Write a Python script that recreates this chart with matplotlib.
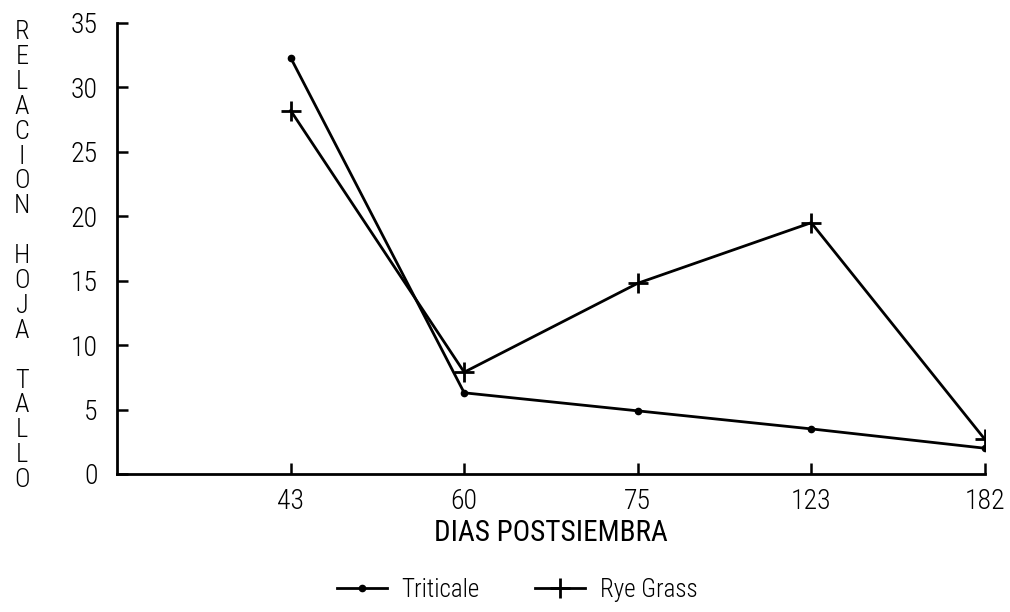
import matplotlib.pyplot as plt
from matplotlib import font_manager

dias = ["43", "60", "75", "123", "182"]
triticale = [32.3, 6.3, 4.9, 3.5, 2.0]
rye_grass = [28.2, 7.9, 14.8, 19.5, 2.7]
ylabel_txt = "RELACION HOJA TALLO"

names = {f.name for f in font_manager.fontManager.ttflist}
fam = "DejaVu Sans"
for cand in ["Liberation Sans Narrow", "Roboto Condensed", "DejaVu Sans Condensed"]:
    if cand in names:
        fam = cand
        break
plt.rcParams['font.family'] = [fam, 'DejaVu Sans']
plt.rcParams['font.weight'] = 'light'

W, H = 1010, 612
fig = plt.figure(figsize=(W / 100, H / 100), dpi=100)
ax = fig.add_axes([0.116, 0.2255, 0.859, 0.737])

pos = list(range(1, len(dias) + 1))
ax.plot(pos, triticale, color='k', lw=2.0, marker='o', ms=4.5, label="Triticale")
ax.plot(pos, rye_grass, color='k', lw=2.0, marker='+', ms=15, mew=2.0, label="Rye Grass")

ax.set_xlim(0, 5)
ax.set_ylim(0, 35)
ax.set_xticks(pos)
ax.set_xticklabels(dias)
ax.set_yticks(range(0, 36, 5))
ax.spines['top'].set_visible(False)
ax.spines['right'].set_visible(False)
ax.spines['left'].set_linewidth(2.0)
ax.spines['bottom'].set_linewidth(2.0)
ax.tick_params(direction='in', length=8, width=1.8, labelsize=20)
ax.tick_params(axis='x', pad=10)
ax.tick_params(axis='y', pad=14)
ax.set_xlabel("DIAS POSTSIEMBRA", fontsize=21, labelpad=3)

# stacked vertical y label, one letter per line
for i, ch in enumerate(ylabel_txt):
    fig.text(22 / W, 1 - (32 + i * 24.9) / H, ch, fontsize=19, ha='center', va='center')

fig.legend(loc='lower center', bbox_to_anchor=(0.512, -0.02), ncol=2, frameon=False,
           fontsize=18, handlelength=2.0, handletextpad=0.6, columnspacing=2.2)

fig.savefig("out.png", dpi=100)
